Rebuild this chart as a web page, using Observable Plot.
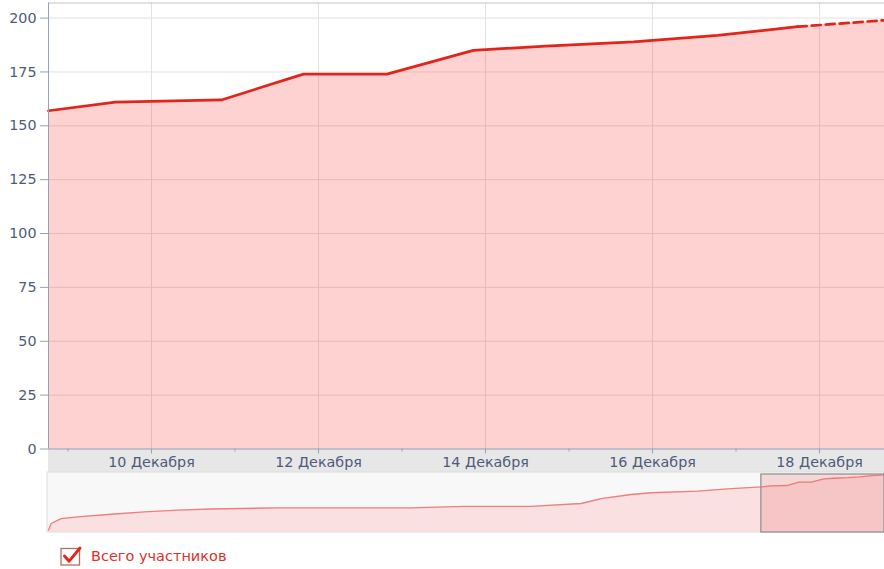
<!DOCTYPE html>
<html><head><meta charset="utf-8">
<script src="https://cdn.jsdelivr.net/npm/d3@7"></script>
<script src="https://cdn.jsdelivr.net/npm/@observablehq/plot@0.6"></script>
<style>
body{margin:0;background:#fff;font-family:"DejaVu Sans",sans-serif;}
#wrap{position:relative;width:884px;height:569px;overflow:hidden;background:#fff;}
#main{position:absolute;left:0;top:0;}
#nav{position:absolute;left:0;top:472px;}
#legend{position:absolute;left:60px;top:546px;display:flex;align-items:center;gap:8px;color:#e0302a;font-size:14.5px;line-height:18px;}
#legend svg{display:block;}
</style></head><body>
<div id="wrap">
  <div id="main"></div>
  <div id="nav"></div>
  <div id="legend">
    <svg width="23" height="20" viewBox="0 0 23 20">
      <rect x="1" y="2.5" width="18.5" height="16.5" fill="#fff" stroke="#b86a6a" stroke-width="1.3"/>
      <path d="M4.5 10 L9.2 15.2 L20 2" fill="none" stroke="#e3241b" stroke-width="2.9" stroke-linecap="round" stroke-linejoin="round"/>
    </svg>
    <span>Всего участников</span>
  </div>
</div>
<script>
// ---- data ----
const seriesName = "Всего участников";
const mainDates = ["2013-12-08T18:24","2013-12-09T13:40","2013-12-10T20:05","2013-12-11T19:40","2013-12-12T19:40","2013-12-13T20:30","2013-12-14T17:15","2013-12-15T18:30","2013-12-16T18:40","2013-12-17T17:45","2013-12-18T18:40"];
const mainValues = [157,161,162,174,174,185,187,189,192,196,199];
const historyDates = ["2013-10-11T19:30","2013-10-12T00:40","2013-10-12T20:10","2013-10-14T04:30","2013-10-16T21:50","2013-10-19T14:50","2013-10-22T07:40","2013-10-25T01:00","2013-10-30T10:50","2013-11-10T07:10","2013-11-14T15:10","2013-11-20T01:20","2013-11-24T02:50","2013-11-25T18:00","2013-11-28T04:30","2013-11-29T19:30","2013-12-03T14:20","2013-12-06T07:40"];
const historyValues = [8,31,48,54,63,71,77,81,85,85,90,90,100,117,131,137,143,151];
const yTicks = [0,25,50,75,100,125,150,175,200];
const yMax = 207;
const majorTickDates = ["2013-12-10T00:00","2013-12-12T00:00","2013-12-14T00:00","2013-12-16T00:00","2013-12-18T00:00"];
const majorTickLabels = ["10 Декабря","12 Декабря","14 Декабря","16 Декабря","18 Декабря"];
const minorTickDates = ["2013-12-09T00:00","2013-12-11T00:00","2013-12-13T00:00","2013-12-15T00:00","2013-12-17T00:00"];

// ---- build ----
const main = mainDates.map((d,i)=>({date:new Date(d), value:mainValues[i]}));
const solid = main.slice(0,-1);
const dashed = main.slice(-2);
const navAll = historyDates.map((d,i)=>({date:new Date(d), value:historyValues[i]})).concat(main);
const xDomain = [main[0].date, main[main.length-1].date];
const majors = majorTickDates.map(d=>new Date(d));
const minors = minorTickDates.map(d=>new Date(d));
const labelMap = new Map(majors.map((d,i)=>[+d, majorTickLabels[i]]));

const lineColor = "#e3241b";
const axisText = "#4e5b78";
const axisStroke = "#95a2b4";
const gridColor = "#e2e2e2";

const mainPlot = Plot.plot({
  width: 884, height: 473,
  marginLeft: 48, marginRight: 0, marginTop: 2.5, marginBottom: 24.5,
  x: {type: "time", domain: xDomain},
  y: {domain: [0, yMax]},
  style: {fontFamily: "DejaVu Sans, sans-serif", fontSize: "14.3px", background: "transparent", overflow: "visible"},
  marks: [
    Plot.gridY(yTicks, {stroke: gridColor, strokeOpacity: 1}),
    Plot.gridX(majors, {stroke: gridColor, strokeOpacity: 1}),
    Plot.areaY(main, {x: "date", y: "value", fill: "#ff2020", fillOpacity: 0.2}),
    Plot.line(solid, {x: "date", y: "value", stroke: lineColor, strokeWidth: 2.7}),
    Plot.line(dashed, {x: "date", y: "value", stroke: lineColor, strokeWidth: 2.7, strokeDasharray: "9,5"}),
    Plot.ruleY([yMax], {stroke: "#c4c4c4"}),
    Plot.ruleY([0], {stroke: axisStroke}),
    Plot.ruleX([xDomain[0]], {stroke: axisStroke}),
    Plot.axisY(yTicks, {tickSize: 8, tickPadding: 4, stroke: axisStroke, fill: axisText, label: null}),
    Plot.axisX(minors, {tickSize: 3, tickFormat: () => "", stroke: axisStroke, label: null}),
    Plot.axisX(majors, {tickSize: 5, tickPadding: 3, tickFormat: d => labelMap.get(+d), stroke: axisStroke, fill: axisText, label: null})
  ]
});
{
  const xr = mainPlot.scale("x").range, yr = mainPlot.scale("y").range;
  d3.select(mainPlot).insert("rect", ":first-child")
    .attr("x", xr[0]).attr("y", yr[0]).attr("width", xr[1]-xr[0]).attr("height", 473-yr[0]-1)
    .attr("fill", "#e7e7e7");
}
document.getElementById("main").append(mainPlot);

const navPlot = Plot.plot({
  width: 884, height: 61,
  marginLeft: 48, marginRight: 0, marginTop: 2, marginBottom: 1,
  x: {type: "time", domain: [navAll[0].date, xDomain[1]], axis: null},
  y: {domain: [0, 200], axis: null},
  style: {background: "transparent", overflow: "visible"},
  marks: [
    Plot.areaY(navAll, {x: "date", y: "value", fill: "#fad9d9", fillOpacity: 0.8}),
    Plot.line(navAll, {x: "date", y: "value", stroke: "#ee7f7f", strokeWidth: 1.3}),
    Plot.rect([{x1: xDomain[0], x2: xDomain[1]}], {x1: "x1", x2: "x2", fill: "#e86a6a", fillOpacity: 0.22, stroke: "#8d8d8d", strokeWidth: 1.2})
  ]
});
{
  const xr = navPlot.scale("x").range;
  d3.select(navPlot).insert("rect", ":first-child")
    .attr("x", xr[0]-1).attr("y", 0).attr("width", xr[1]-xr[0]+1).attr("height", 60)
    .attr("fill", "#f8f8f8").attr("stroke", "#dedede");
}
document.getElementById("nav").append(navPlot);
</script>
</body></html>
